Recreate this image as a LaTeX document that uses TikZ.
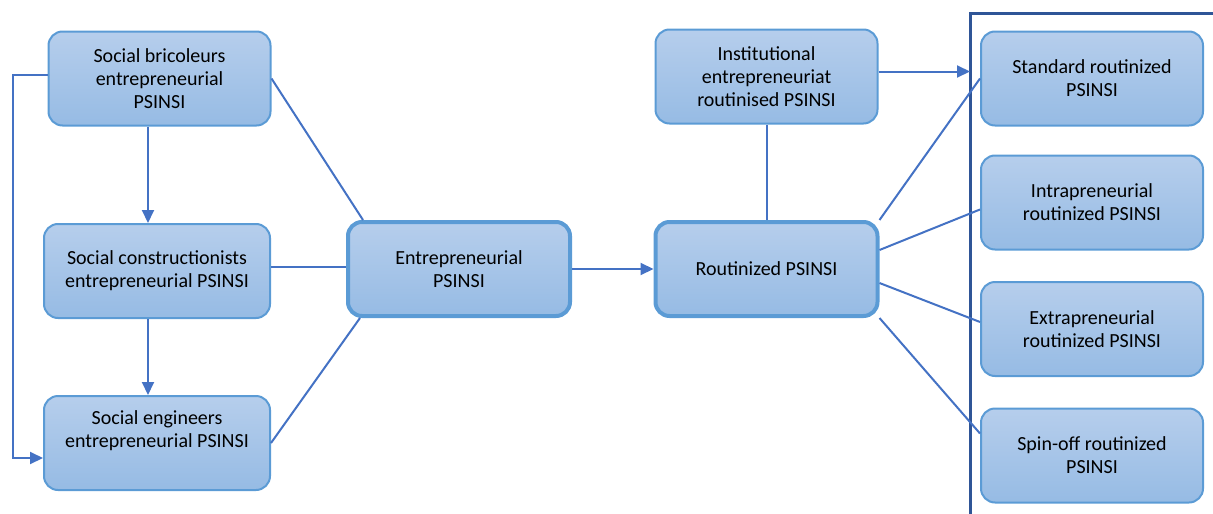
\documentclass[tikz,border=0pt]{standalone}
\usepackage{fontspec}
\setmainfont{Carlito}
\usetikzlibrary{arrows.meta}
\definecolor{boxline}{RGB}{91,155,213}
\definecolor{boxtop}{RGB}{182,206,236}
\definecolor{boxbot}{RGB}{150,187,228}
\definecolor{linkblue}{RGB}{68,114,196}
\definecolor{framblue}{RGB}{47,85,151}
\tikzset{
  psbox/.style={rectangle,rounded corners=14pt,draw=boxline,line width=2pt,
    top color=boxtop,bottom color=boxbot,align=center,
    minimum width=222pt,minimum height=94pt,
    font=\fontsize{20}{23}\selectfont},
  mainbox/.style={psbox,line width=4pt},
  link/.style={draw=linkblue,line width=2pt},
  arr/.style={link,-{Triangle[length=13pt,width=12pt]}}
}

\begin{document}
\begin{tikzpicture}[x=1pt,y=-1pt]
\useasboundingbox (0,0) rectangle (1213,514);
% entrepreneurial side
\node [psbox] (sb) at (159.5,78.5) {Social bricoleurs\\entrepreneurial\\PSINSI};
\node [psbox,minimum width=226pt] (sc) at (157,271) {Social constructionists\\entrepreneurial PSINSI};
\node [psbox,minimum width=226pt,text depth=28pt] (se) at (157,443) {Social engineers\\entrepreneurial PSINSI};
\node [mainbox] (ent) at (459,269) {Entrepreneurial\\PSINSI};
% routinized side
\node [mainbox] (rout) at (766.5,269) {Routinized PSINSI};
\node [psbox] (inst) at (766.5,76.5) {Institutional\\entrepreneuriat\\routinised PSINSI};
\node [psbox] (std) at (1092,78.5) {Standard routinized\\PSINSI};
\node [psbox] (intra) at (1092,202.5) {Intrapreneurial\\routinized PSINSI};
\node [psbox] (extra) at (1092,329) {Extrapreneurial\\routinized PSINSI};
\node [psbox] (spin) at (1092,455.5) {Spin-off routinized\\PSINSI};
% frame
\coordinate (fr) at (970,13);
\draw [framblue,line width=3pt] (970,514) -- (fr) -- (1213,13);
% links
\draw [arr] ([yshift=3.5pt]sb.west) -- ++(-35,0) |- ([yshift=-15pt]se.west);
\draw [arr] ([xshift=-11.5pt]sb.south) -- ([xshift=-11.5pt]sb.south |- sc.north);
\draw [arr] ([xshift=-9pt]sc.south) -- ([xshift=-9pt]sc.south |- se.north);
\draw [link] (sb.east) -- ([xshift=17pt]ent.north west);
\draw [link] ([yshift=4pt]sc.east) -- ([yshift=4pt]sc.east -| ent.west);
\draw [link] (se.east) -- ([xshift=14pt]ent.south west);
\draw [arr] (ent.east) -- (rout.west);
\draw [link] (inst.south) -- (rout.north);
\draw [arr] ([yshift=5pt]inst.east) -- ([yshift=5pt]inst.east -| fr);
%
\draw [link] (rout.north east) -- (std.west);
\draw [link] ([yshift=19pt]rout.east) -- ([yshift=-7pt]intra.west);
\draw [link] ([yshift=-14pt]rout.east) -- ([yshift=7pt]extra.west);
\draw [link] (rout.south east) -- ([yshift=22pt]spin.west);
\end{tikzpicture}
\end{document}
